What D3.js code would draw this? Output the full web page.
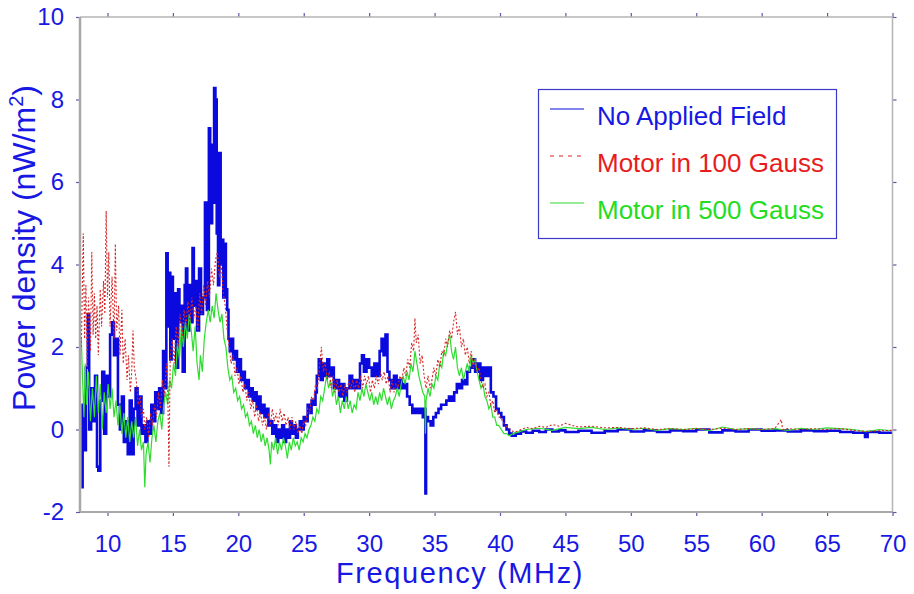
<!DOCTYPE html>
<html>
<head>
<meta charset="utf-8">
<script src="https://cdn.jsdelivr.net/npm/d3@7"></script>
<style>
body{margin:0;background:#fff}
svg{display:block}
</style>
</head>
<body>
<div id="graph"></div>
<script>
"use strict"
var xTicks=[10,15,20,25,30,35,40,45,50,55,60,65,70]
var yTicks=[-2,0,2,4,6,8,10]
var seriesNames=['No Applied Field','Motor in 100 Gauss','Motor in 500 Gauss']

// [frequency MHz, power density nW/m2]
var noField=[[8.0,-1.4],[8.1,0.6],[8.2,-0.5],[8.35,1.5],[8.5,2.8],[8.6,0.0],[8.75,1.0],[8.9,0.2],[9.05,1.3],[9.2,-0.9],[9.3,-1.0],[9.45,0.7],[9.6,1.4],[9.75,-0.1],[9.9,1.3],[10.05,0.8],[10.2,2.3],[10.35,2.6],[10.5,1.8],[10.65,2.2],[10.8,0.6],[10.95,0.0],[11.1,0.8],[11.25,-0.3],[11.4,0.2],[11.55,-0.6],[11.7,0.7],[11.85,-0.6],[12.0,0.5],[12.15,1.0],[12.3,0.1],[12.45,0.8],[12.6,-0.1],[12.75,0.1],[12.9,-0.3],[13.05,0.2],[13.2,-0.1],[13.35,0.6],[13.5,0.2],[13.65,0.9],[13.8,0.5],[13.95,1.0],[14.1,0.4],[14.25,1.9],[14.4,1.0],[14.5,4.27],[14.6,2.5],[14.7,3.8],[14.8,1.7],[14.9,3.7],[15.0,2.2],[15.1,3.3],[15.25,1.5],[15.4,3.4],[15.5,2.6],[15.6,3.0],[15.75,1.4],[15.9,3.5],[16.0,3.9],[16.1,2.4],[16.25,3.5],[16.4,2.6],[16.5,4.4],[16.6,3.0],[16.75,3.6],[16.85,2.4],[17.0,3.9],[17.15,2.8],[17.3,3.2],[17.45,5.5],[17.6,2.9],[17.75,7.3],[17.85,5.0],[18.0,6.9],[18.1,5.5],[18.15,8.28],[18.25,8.0],[18.35,4.75],[18.45,3.5],[18.55,6.7],[18.65,4.0],[18.75,4.6],[18.85,3.2],[18.95,4.5],[19.05,3.4],[19.15,2.9],[19.25,2.2],[19.35,1.9],[19.5,2.2],[19.6,1.7],[19.75,1.9],[19.9,1.4],[20.05,1.7],[20.2,1.2],[20.35,1.4],[20.5,1.0],[20.65,1.2],[20.8,0.8],[20.95,1.0],[21.1,0.7],[21.25,0.9],[21.4,0.5],[21.55,0.8],[21.7,0.4],[21.85,0.6],[22.0,0.3],[22.15,0.5],[22.3,0.1],[22.45,0.2],[22.6,-0.1],[22.75,0.1],[22.9,-0.3],[23.05,0.0],[23.2,-0.2],[23.35,0.1],[23.5,-0.3],[23.65,0.0],[23.8,-0.2],[23.95,0.2],[24.1,-0.1],[24.25,0.1],[24.4,-0.2],[24.55,0.0],[24.7,0.2],[24.85,0.0],[25.0,0.3],[25.15,0.2],[25.3,0.6],[25.45,0.4],[25.6,0.7],[25.75,0.6],[25.9,0.9],[26.0,1.3],[26.15,1.7],[26.3,1.2],[26.45,1.6],[26.6,1.3],[26.8,1.7],[26.95,1.3],[27.1,1.5],[27.3,1.0],[27.5,1.2],[27.7,0.8],[27.9,1.1],[28.1,0.7],[28.3,1.0],[28.5,1.3],[28.7,1.0],[28.9,1.2],[29.1,1.0],[29.3,1.6],[29.45,1.8],[29.6,1.4],[29.8,1.7],[30.0,1.5],[30.2,1.3],[30.4,1.6],[30.6,1.3],[30.8,1.9],[30.95,2.2],[31.1,1.8],[31.25,2.3],[31.4,1.4],[31.55,1.2],[31.7,1.0],[31.9,1.3],[32.1,1.0],[32.3,1.2],[32.5,1.0],[32.7,1.1],[32.9,0.8],[33.1,0.6],[33.3,0.4],[33.5,0.5],[33.7,0.4],[33.9,0.5],[34.1,0.3],[34.25,0.5],[34.3,-1.55],[34.35,0.3],[34.5,0.2],[34.7,0.1],[34.9,0.3],[35.1,0.4],[35.3,0.5],[35.5,0.6],[35.7,0.6],[35.9,0.7],[36.1,0.8],[36.3,0.7],[36.5,0.9],[36.7,1.1],[36.9,1.0],[37.1,1.2],[37.3,1.1],[37.5,1.4],[37.7,1.5],[37.9,1.7],[38.1,1.4],[38.3,1.6],[38.5,1.2],[38.7,1.5],[38.9,1.3],[39.1,1.5],[39.3,0.9],[39.5,0.8],[39.7,0.5],[39.9,0.4],[40.1,0.3],[40.3,0.1],[40.5,0.0],[40.7,-0.1],[40.9,-0.15],[41.2,-0.1],[41.6,-0.05],[42,-0.08],[42.5,-0.03],[43,-0.06],[43.5,0.0],[44,-0.05],[44.5,-0.02],[45,-0.06],[46,-0.03],[47,-0.08],[48,-0.04],[49,0.0],[50,-0.05],[51,-0.02],[52,-0.06],[53,-0.02],[54,-0.04],[55,0.0],[56,-0.07],[57,-0.02],[58,-0.05],[59,0.0],[60,-0.03],[61,-0.02],[62,-0.05],[63,-0.02],[64,-0.04],[65,-0.03],[66,-0.06],[67,-0.08],[67.9,-0.18],[68.1,-0.06],[69,-0.08],[70,-0.05]]

var motor100=[[8.0,2.0],[8.05,2.9],[8.15,4.75],[8.25,2.2],[8.35,3.5],[8.45,1.5],[8.55,3.2],[8.7,1.9],[8.8,4.3],[8.9,2.3],[9.0,3.3],[9.1,2.2],[9.2,3.0],[9.3,1.8],[9.45,3.4],[9.55,2.5],[9.7,3.6],[9.8,2.8],[9.9,5.3],[10.0,3.2],[10.1,4.3],[10.2,2.5],[10.35,3.7],[10.5,2.2],[10.6,4.5],[10.7,2.4],[10.85,3.0],[10.95,1.8],[11.1,2.9],[11.2,1.6],[11.35,2.2],[11.5,1.2],[11.6,1.8],[11.75,0.9],[11.85,1.4],[11.95,2.4],[12.05,1.5],[12.2,1.2],[12.35,0.6],[12.5,0.8],[12.6,0.3],[12.75,0.5],[12.85,0.0],[13.0,0.3],[13.15,-0.2],[13.3,0.4],[13.45,0.1],[13.6,0.6],[13.75,0.3],[13.9,0.9],[14.05,0.5],[14.2,1.2],[14.35,0.8],[14.5,1.6],[14.6,1.1],[14.7,-0.9],[14.8,1.8],[14.95,2.2],[15.1,1.6],[15.25,2.5],[15.4,2.0],[15.55,2.8],[15.7,2.2],[15.85,2.9],[16.0,2.5],[16.15,3.1],[16.3,2.6],[16.45,3.2],[16.6,2.7],[16.75,3.0],[16.9,2.4],[17.05,3.3],[17.2,2.8],[17.35,3.5],[17.5,3.0],[17.65,3.6],[17.8,3.2],[17.95,3.9],[18.1,3.5],[18.25,4.1],[18.4,4.3],[18.55,3.7],[18.7,4.0],[18.85,3.3],[19.0,3.0],[19.15,2.4],[19.3,2.0],[19.45,1.6],[19.6,1.8],[19.75,1.3],[19.9,1.5],[20.05,1.1],[20.2,1.3],[20.35,0.9],[20.5,1.1],[20.65,0.7],[20.8,0.9],[20.95,0.5],[21.1,0.7],[21.25,0.3],[21.4,0.6],[21.55,0.2],[21.7,0.4],[21.85,0.1],[22.0,0.3],[22.15,0.0],[22.3,0.4],[22.45,0.1],[22.6,0.5],[22.75,0.2],[22.9,0.4],[23.05,0.1],[23.2,0.5],[23.35,0.2],[23.5,0.4],[23.65,0.1],[23.8,0.3],[23.95,0.0],[24.1,0.3],[24.25,0.0],[24.4,0.2],[24.55,-0.1],[24.7,0.1],[24.85,-0.1],[25.0,0.2],[25.15,0.1],[25.3,0.5],[25.45,0.4],[25.6,0.8],[25.75,0.7],[25.9,1.1],[26.05,1.0],[26.2,1.5],[26.35,2.0],[26.5,1.4],[26.65,1.6],[26.8,1.2],[26.95,1.4],[27.1,1.0],[27.25,1.3],[27.4,0.9],[27.55,1.2],[27.7,0.9],[27.85,1.1],[28.0,0.8],[28.15,1.1],[28.3,0.9],[28.45,1.2],[28.6,1.0],[28.75,1.2],[28.9,0.9],[29.05,1.2],[29.2,1.0],[29.35,1.3],[29.5,1.0],[29.65,1.3],[29.8,1.1],[29.95,1.3],[30.1,0.9],[30.25,1.2],[30.4,1.0],[30.55,1.3],[30.7,1.1],[30.85,1.4],[31.0,1.2],[31.15,1.4],[31.3,1.1],[31.45,1.3],[31.6,0.9],[31.75,1.2],[31.9,0.9],[32.05,1.1],[32.2,1.0],[32.35,1.3],[32.5,1.2],[32.65,1.5],[32.8,1.3],[32.95,1.7],[33.1,1.5],[33.25,2.1],[33.4,1.9],[33.5,2.7],[33.6,2.1],[33.75,2.3],[33.9,1.6],[34.05,1.8],[34.2,1.3],[34.35,1.0],[34.5,1.3],[34.65,1.0],[34.8,1.2],[34.95,1.5],[35.1,1.3],[35.25,1.7],[35.4,1.5],[35.55,1.9],[35.7,1.8],[35.85,2.2],[36.0,2.0],[36.15,2.4],[36.3,2.2],[36.45,2.6],[36.6,2.85],[36.75,2.3],[36.9,2.5],[37.05,2.0],[37.2,2.2],[37.35,1.8],[37.5,2.0],[37.65,1.6],[37.8,1.9],[37.95,1.5],[38.1,1.7],[38.25,1.4],[38.4,1.5],[38.55,1.2],[38.7,1.0],[38.85,1.1],[39.0,0.8],[39.15,0.9],[39.3,0.6],[39.45,0.7],[39.6,0.4],[39.75,0.5],[39.9,0.3],[40.05,0.3],[40.2,0.2],[40.4,0.1],[40.6,0.05],[40.8,0.0],[41.0,-0.05],[41.3,-0.05],[41.6,0.0],[42,0.05],[42.5,0.02],[43,0.08],[43.5,0.05],[44,0.12],[44.5,0.08],[45,0.15],[45.5,0.1],[46,0.06],[47,0.08],[48,0.04],[49,0.05],[50,0.02],[51,0.04],[52,0.0],[53,0.02],[54,0.0],[55,0.02],[56,0.0],[57,0.03],[58,0.0],[59,0.02],[60,0.0],[61,0.02],[61.5,0.24],[61.6,0.0],[62,0.02],[63,0.0],[64,0.02],[65,0.0],[66,0.02],[67,-0.02],[68,-0.05],[69,-0.03],[70,-0.02]]

var motor500=[[8.0,2.2],[8.1,1.2],[8.2,0.3],[8.3,1.6],[8.4,0.6],[8.55,1.4],[8.7,0.2],[8.85,1.0],[9.0,0.3],[9.15,1.3],[9.3,0.4],[9.45,1.1],[9.6,0.0],[9.75,0.9],[9.9,0.4],[10.05,1.1],[10.2,0.5],[10.35,1.0],[10.5,0.3],[10.65,0.7],[10.8,0.1],[10.95,0.6],[11.1,-0.1],[11.25,0.4],[11.4,-0.2],[11.55,0.3],[11.7,-0.3],[11.85,0.2],[12.0,-0.2],[12.15,0.3],[12.3,-0.4],[12.45,0.0],[12.6,-0.5],[12.75,-0.3],[12.85,-1.4],[12.95,-0.6],[13.1,-0.3],[13.25,-0.8],[13.4,-0.2],[13.55,0.1],[13.7,-0.3],[13.85,0.2],[14.0,0.4],[14.15,0.0],[14.3,0.6],[14.45,0.9],[14.6,0.6],[14.75,1.2],[14.9,1.0],[15.05,1.6],[15.2,1.3],[15.35,2.1],[15.5,1.7],[15.65,2.5],[15.8,2.0],[15.95,2.6],[16.1,2.2],[16.25,2.8],[16.4,2.4],[16.55,1.9],[16.7,2.5],[16.85,1.6],[17.0,1.2],[17.1,1.8],[17.25,1.4],[17.4,2.2],[17.55,2.6],[17.7,2.9],[17.85,2.6],[18.0,3.0],[18.15,2.7],[18.3,3.3],[18.45,2.9],[18.6,2.6],[18.75,2.8],[18.9,2.2],[19.05,2.0],[19.2,1.5],[19.35,1.2],[19.5,1.3],[19.65,0.9],[19.8,1.0],[19.95,0.7],[20.1,0.8],[20.25,0.5],[20.4,0.6],[20.55,0.3],[20.7,0.4],[20.85,0.1],[21.0,0.2],[21.15,-0.1],[21.3,0.1],[21.45,-0.2],[21.6,0.0],[21.75,-0.3],[21.9,-0.1],[22.05,-0.4],[22.2,-0.2],[22.35,-0.5],[22.45,-0.85],[22.55,-0.3],[22.7,-0.5],[22.85,-0.2],[23.0,-0.6],[23.15,-0.3],[23.3,-0.5],[23.45,-0.2],[23.6,-0.4],[23.75,-0.7],[23.9,-0.3],[24.05,-0.5],[24.2,-0.2],[24.35,-0.4],[24.5,-0.3],[24.65,-0.5],[24.8,-0.2],[24.95,-0.3],[25.1,-0.1],[25.25,-0.2],[25.4,0.0],[25.55,0.1],[25.7,0.3],[25.85,0.2],[26.0,0.5],[26.15,0.4],[26.3,0.8],[26.45,0.7],[26.6,1.0],[26.75,1.3],[26.9,1.0],[27.05,1.2],[27.2,0.8],[27.35,1.0],[27.5,0.6],[27.65,0.8],[27.8,0.4],[27.95,0.7],[28.1,0.5],[28.25,0.8],[28.4,0.5],[28.55,0.7],[28.7,0.4],[28.85,0.6],[29.0,0.5],[29.15,0.9],[29.3,0.7],[29.45,1.0],[29.6,0.8],[29.75,1.1],[29.9,0.9],[30.05,0.7],[30.2,0.9],[30.35,0.6],[30.5,0.8],[30.65,0.6],[30.8,0.9],[30.95,0.7],[31.1,1.0],[31.25,0.8],[31.4,0.6],[31.55,0.8],[31.7,0.5],[31.85,0.7],[32.0,0.8],[32.15,1.0],[32.3,0.8],[32.45,1.1],[32.6,1.3],[32.75,1.1],[32.9,1.4],[33.05,1.2],[33.2,1.6],[33.35,1.4],[33.5,1.9],[33.65,1.6],[33.8,1.3],[33.95,1.1],[34.1,0.9],[34.25,0.8],[34.3,-0.1],[34.35,0.7],[34.5,1.0],[34.65,0.8],[34.8,1.1],[34.95,1.0],[35.1,1.3],[35.25,1.2],[35.4,1.6],[35.55,1.5],[35.7,1.9],[35.85,1.8],[36.0,2.1],[36.15,2.3],[36.3,1.9],[36.45,1.7],[36.6,2.0],[36.75,1.5],[36.9,1.3],[37.05,1.5],[37.2,1.2],[37.35,1.4],[37.5,1.6],[37.65,1.4],[37.8,1.8],[37.95,1.6],[38.1,1.7],[38.25,1.4],[38.4,1.2],[38.55,1.0],[38.7,1.1],[38.85,0.8],[39.0,0.7],[39.15,0.5],[39.3,0.6],[39.45,0.3],[39.6,0.3],[39.75,0.1],[39.9,0.1],[40.1,0.0],[40.3,-0.1],[40.5,-0.1],[40.7,-0.15],[41.0,-0.1],[41.5,-0.05],[42,0.0],[43,0.03],[44,-0.02],[45,0.05],[46,0.02],[47,0.05],[48,0.0],[49,0.04],[50,0.0],[51,0.03],[52,-0.02],[53,0.02],[54,0.0],[55,0.03],[56,-0.03],[57,0.06],[58,0.0],[59,0.02],[60,0.0],[61,0.02],[62,-0.02],[63,0.03],[64,0.0],[65,0.04],[66,0.02],[67,0.0],[68,-0.05],[69,0.0],[70,-0.03]]

var W=914,H=594
var pLeft=80,pRight=892.5,pTop=17,pBottom=512
var txtBlue='#1818e4'

var svg=d3.select('#graph').append('svg').attr('width',W).attr('height',H)
  .style('font-family','Liberation Sans, Arial, sans-serif')

var x=d3.scaleLinear().domain([7.9,70]).range([pLeft,pRight])
var y=d3.scaleLinear().domain([-2,10]).range([pBottom,pTop])

svg.append('defs').append('clipPath').attr('id','plot')
  .append('rect').attr('x',pLeft).attr('y',pTop).attr('width',pRight-pLeft).attr('height',pBottom-pTop)

var series=[
  {data:noField,c:'#0a0ade',w:2.6,dash:null,curve:d3.curveStepAfter},
  {data:motor500,c:'#2edc2e',w:1.2,dash:null,curve:d3.curveLinear},
  {data:motor100,c:'#d42626',w:1.1,dash:'2,2',curve:d3.curveLinear}
]
var lines=svg.append('g').attr('clip-path','url(#plot)')
series.forEach(function(s){
  var line=d3.line().curve(s.curve).x(function(d){return x(d[0])}).y(function(d){return y(d[1])})
  lines.append('path').attr('d',line(s.data)).attr('fill','none')
    .attr('stroke',s.c).attr('stroke-width',s.w).attr('stroke-dasharray',s.dash)
})

// frame with outward ticks
function styleAxis(g,labels){
  g.select('.domain').remove()
  g.selectAll('.tick line').attr('stroke','#5a5aa8').attr('stroke-width',1.2)
  if(labels) g.selectAll('.tick text').attr('fill',txtBlue).style('font-size','24px').attr('font-family',null)
  else g.selectAll('.tick text').remove()
}
var fmt=function(d){return String(d)}
svg.append('g').attr('transform','translate(0,'+pBottom+')')
  .call(d3.axisBottom(x).tickValues(xTicks).tickFormat(fmt).tickSize(4).tickPadding(19))
  .call(function(g){styleAxis(g,true)})
svg.append('g').attr('transform','translate(0,'+pTop+')')
  .call(d3.axisTop(x).tickValues(xTicks).tickSize(4))
  .call(function(g){styleAxis(g,false)})
svg.append('g').attr('transform','translate('+pLeft+',0)')
  .call(d3.axisLeft(y).tickValues(yTicks).tickFormat(fmt).tickSize(4).tickPadding(12))
  .call(function(g){styleAxis(g,true)})
svg.append('g').attr('transform','translate('+pRight+',0)')
  .call(d3.axisRight(y).tickValues(yTicks).tickSize(4))
  .call(function(g){styleAxis(g,false)})

svg.append('line').attr('x1',pLeft).attr('x2',pRight).attr('y1',pTop).attr('y2',pTop).attr('stroke','#b4b4b4').attr('stroke-width',1.5)
svg.append('line').attr('x1',pRight).attr('x2',pRight).attr('y1',pTop).attr('y2',pBottom).attr('stroke','#b4b4b4').attr('stroke-width',1.5)
svg.append('line').attr('x1',pLeft).attr('x2',pRight).attr('y1',pBottom).attr('y2',pBottom).attr('stroke','#a8a8a8').attr('stroke-width',2)
svg.append('line').attr('x1',pLeft).attr('x2',pLeft).attr('y1',pTop).attr('y2',pBottom).attr('stroke','#a8a8a8').attr('stroke-width',2.5)

// axis titles
svg.append('text').attr('x',460).attr('y',583).attr('text-anchor','middle')
  .attr('fill',txtBlue).style('font-size','29px').style('letter-spacing','1.6px').text('Frequency (MHz)')
var yl=svg.append('text').attr('transform','translate(35,248)rotate(-90)').attr('text-anchor','middle')
  .attr('fill',txtBlue).style('font-size','32px')
yl.append('tspan').text('Power density (nW/m')
yl.append('tspan').attr('dy',-12).style('font-size','20px').text('2')
yl.append('tspan').attr('dy',12).text(')')

// legend
var legColors=['#0a0ade','#d42626','#2edc2e']
var legText=['#1818e4','#e81c1c','#22dd22']
var legDash=[null,'4,5',null]
var leg=svg.append('g')
leg.append('rect').attr('x',538.5).attr('y',89.5).attr('width',298).attr('height',149)
  .attr('fill','#fff').attr('stroke','#3a3ac8').attr('stroke-width',1.2)
seriesNames.forEach(function(n,i){
  var ly=109+i*47
  leg.append('line').attr('x1',550).attr('x2',584).attr('y1',ly).attr('y2',ly)
    .attr('stroke',legColors[i]).attr('stroke-width',1.2).attr('stroke-dasharray',legDash[i])
  leg.append('text').attr('x',597).attr('y',ly+16).attr('fill',legText[i])
    .style('font-size','26px').text(n)
})
</script>
</body>
</html>
